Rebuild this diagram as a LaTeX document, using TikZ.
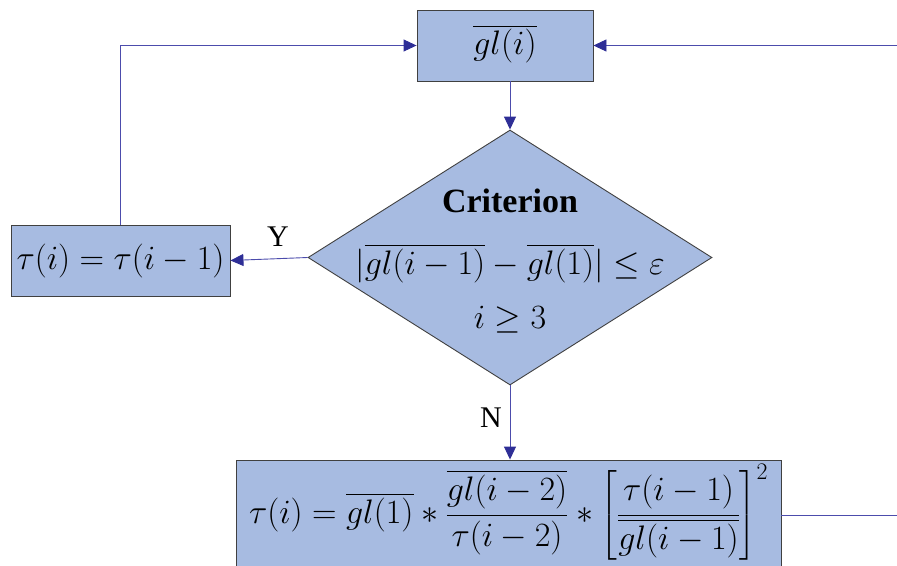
\RequirePackage{fix-cm}
\documentclass[tikz,border=0pt]{standalone}
\usepackage{amsmath}
\usepackage{fontspec}
\setmainfont{Liberation Serif}
\usetikzlibrary{shapes.geometric,arrows.meta}
\definecolor{boxfill}{RGB}{167,187,225}
\definecolor{boxline}{RGB}{64,64,64}
\definecolor{connc}{RGB}{76,76,172}
\definecolor{tipc}{RGB}{46,46,150}
\begin{document}
\begin{tikzpicture}[x=1pt,y=-1pt,
  box/.style={draw=boxline,fill=boxfill,line width=0.9pt,inner sep=0pt},
  conn/.style={draw=connc,line width=0.9pt},
  arr/.style={conn,-{Triangle[length=13pt,width=12pt,color=tipc]}},
  mth/.style={font=\fontsize{34}{40}\selectfont,inner sep=0pt},
  lbl/.style={font=\fontsize{30}{36}\selectfont,inner sep=0pt}
]
\path[use as bounding box] (0,0) rectangle (897,565);
\clip (0,0) rectangle (897,565);

% boxes
\node[box,minimum width=176pt,minimum height=71pt] (tb) at (505,45.5) {};
\node[mth] (tbt) at (505,44) {$\overline{gl(i)}$};

\node[shape=diamond,box,minimum width=404pt,minimum height=255pt] (d) at (510,257.5) {};
\node[font=\fontsize{34}{40}\selectfont\bfseries,inner sep=0pt,anchor=base] (crit) at (510,212) {Criterion};
\node[mth,anchor=base] (cond) at (510,274) {$|\overline{gl(i-1)}-\overline{gl(1)}|\le\varepsilon$};
\node[mth,anchor=base] (iq) at (510,328) {$i\ge 3$};

\node[box,minimum width=219pt,minimum height=71pt] (lb) at (120.5,260.5) {};
\node[mth] (lbt) at (120.5,260.5) {$\tau(i)=\tau(i-1)$};

\node[box,minimum width=545pt,minimum height=112pt] (bb) at (508.5,516) {};
\node[mth] (bbt) at (508.5,512) {$\displaystyle \tau(i)=\overline{gl(1)}*\frac{\overline{gl(i-2)}}{\tau(i-2)}*\left[\frac{\tau(i-1)}{\overline{gl(i-1)}}\right]^2$};

% labels
\node[lbl] (ylab) at (278,237) {Y};
\node[lbl] (nlab) at (491,418) {N};

% connectors
\coordinate (rin) at (897,45.5);
\coordinate (rout) at (897,515);
\draw[arr] (d.north |- tb.south) -- (d.north);
\draw[arr] (d.west) -- (lb.east);
\draw[arr] (lb.north) -- (lb.north |- tb.west) -- (tb.west);
\draw[arr] (rin) -- (tb.east);
\draw[arr] (d.south) -- (d.south |- bb.north);
\draw[conn] (bb.east |- rout) -- (rout);
\end{tikzpicture}
\end{document}
